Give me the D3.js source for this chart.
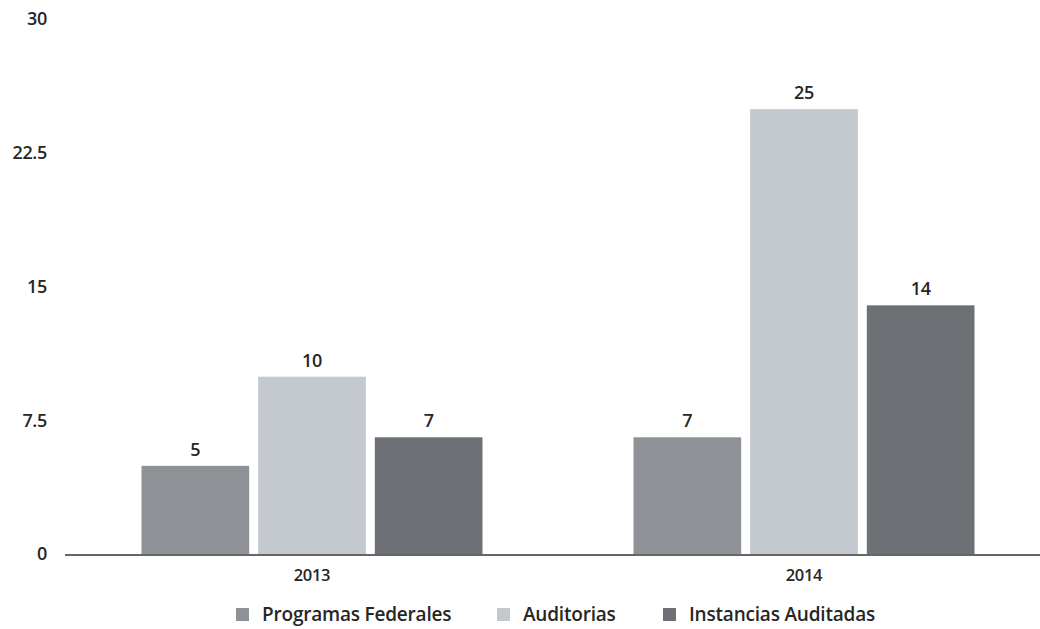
<!DOCTYPE html>
<html><head><meta charset="utf-8">
<script src="https://cdn.jsdelivr.net/npm/d3@7"></script>
<style>body{margin:0;background:#fff}svg{display:block}text{font-family:"Open Sans",Lato,sans-serif;fill:#262626}</style>
</head><body><svg id="c" width="1040" height="629"></svg>
<script>
const categories = ["2013", "2014"];
const seriesNames = ["Programas Federales", "Auditorias", "Instancias Auditadas"];
const programasFederales = [5, 6.6];
const auditorias = [10, 25];
const instanciasAuditadas = [6.6, 14];
const yTicks = [0, 7.5, 15, 22.5, 30];
const colors = ["#8e9196", "#c4c8cf", "#6d7074"];

const seriesValues = [programasFederales, auditorias, instanciasAuditadas];
const svg = d3.select("#c");
const y = d3.scaleLinear().domain([0, 30]).range([555, 20]);
const x0 = d3.scaleBand().domain(categories).range([66, 1050]).padding(0);
const x1 = d3.scaleBand().domain(seriesNames).range([-170.5, 170.5]).paddingInner(0.077).paddingOuter(0);

// y tick labels
svg.append("g").selectAll("text").data(yTicks).join("text")
  .attr("x", 47).attr("y", d => y(d) - 1).attr("dy", "0.35em")
  .attr("text-anchor", "end").attr("font-size", 18).attr("font-weight", 600)
  .attr("letter-spacing", -0.3)
  .text(d => d);

// bars
const groups = svg.append("g").selectAll("g").data(categories).join("g")
  .attr("transform", d => `translate(${x0(d) + x0.bandwidth() / 2},0)`);
groups.selectAll("rect").data((c, i) => seriesNames.map((s, j) => ({s, j, v: seriesValues[j][i]})))
  .join("rect")
  .attr("x", d => x1(d.s)).attr("width", x1.bandwidth())
  .attr("y", d => y(d.v)).attr("height", d => y(0) - y(d.v))
  .attr("fill", d => colors[d.j]);
groups.selectAll("text.v").data((c, i) => seriesNames.map((s, j) => ({s, j, v: seriesValues[j][i]})))
  .join("text").attr("class", "v")
  .attr("x", d => x1(d.s) + x1.bandwidth() / 2).attr("y", d => y(d.v) - 10)
  .attr("text-anchor", "middle").attr("font-size", 18).attr("font-weight", 600)
  .attr("letter-spacing", -0.3)
  .text(d => d3.format(".0f")(d.v));

// x axis line
svg.append("line").attr("x1", 65).attr("x2", 1040).attr("y1", 555).attr("y2", 555)
  .attr("stroke", "#666").attr("stroke-width", 2);
svg.append("g").selectAll("text").data(categories).join("text")
  .attr("x", d => x0(d) + x0.bandwidth() / 2).attr("y", 575).attr("dy", "0.35em")
  .attr("text-anchor", "middle").attr("font-size", 16.5).attr("font-weight", 600)
  .attr("letter-spacing", -0.3).text(d => d);

// legend
const legendX = [236, 497, 663];
const lg = svg.append("g").selectAll("g").data(seriesNames).join("g")
  .attr("transform", (d, i) => `translate(${legendX[i]},614)`);
lg.append("rect").attr("x", 0).attr("y", -6).attr("width", 13).attr("height", 13).attr("fill", (d, i) => colors[i]);
lg.append("text").attr("x", 26).attr("dy", "0.35em").attr("font-size", 19).attr("font-weight", 600)
  .attr("letter-spacing", -0.2).text(d => d);
</script></body></html>
